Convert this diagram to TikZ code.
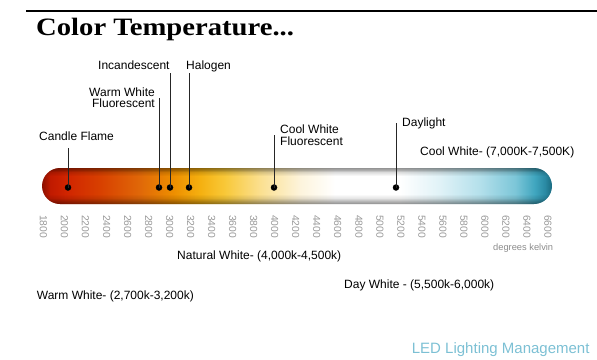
\documentclass[tikz,border=0pt]{standalone}
\usepackage{fontspec}
\setmainfont{Liberation Sans}
\newfontfamily\titlefont{Liberation Serif}
\usetikzlibrary{calc}
\definecolor{hA}{HTML}{8C1000}
\definecolor{hB}{HTML}{C01A00}
\definecolor{hC}{HTML}{D02400}
\definecolor{hD}{HTML}{D84000}
\definecolor{hE}{HTML}{E06808}
\definecolor{hF}{HTML}{EE9000}
\definecolor{hG}{HTML}{F5B010}
\definecolor{hH}{HTML}{F8C838}
\definecolor{hI}{HTML}{FBE090}
\definecolor{hJ}{HTML}{FDF4DC}
\definecolor{hK}{HTML}{FFFFFF}
\definecolor{hL}{HTML}{E0F2F7}
\definecolor{hM}{HTML}{B4E0EB}
\definecolor{hN}{HTML}{7CC6D8}
\definecolor{hO}{HTML}{40A6BF}
\definecolor{hP}{HTML}{2A8AA4}
\definecolor{hQ}{HTML}{1A6A80}
\definecolor{ledblue}{HTML}{7CC0D4}
\definecolor{ticktext}{HTML}{999999}
\pgfdeclarehorizontalshading{tubeh}{100bp}{color(0bp)=(hA); color(25bp)=(hA); color(25.8bp)=(hB); color(27.3bp)=(hC); color(30.7bp)=(hD); color(34.6bp)=(hE); color(38bp)=(hF); color(40.5bp)=(hG); color(42.9bp)=(hH); color(46.4bp)=(hI); color(50.3bp)=(hJ); color(53.7bp)=(hK); color(60.1bp)=(hK); color(64bp)=(hL); color(67.9bp)=(hM); color(71.4bp)=(hN); color(73.3bp)=(hO); color(74.3bp)=(hP); color(75bp)=(hQ); color(100bp)=(hQ)}
\pgfdeclareverticalshading{tubev}{100bp}{color(0bp)=(black!45); color(25bp)=(black!45); color(29.2bp)=(black!28); color(33.3bp)=(black!10); color(38.9bp)=(white); color(63.9bp)=(white); color(69.4bp)=(black!14); color(72.2bp)=(black!32); color(75bp)=(black!42); color(100bp)=(black!42)}
\tikzset{
  lbl/.style={inner sep=0pt, text=black, font=\fontsize{12}{11.5}\selectfont},
  ticklbl/.style={inner sep=0pt, text=ticktext, rotate=-90, anchor=west, font=\fontsize{10.3}{10.3}\selectfont},
  dotnode/.style={circle, fill=black, inner sep=0pt, minimum size=6.5pt},
  pinline/.style={draw=black!85, line width=0.9pt}
}
\begin{document}
\begin{tikzpicture}[x=1pt,y=-1pt]
\useasboundingbox (0,0) rectangle (597,359);
% top rule
\coordinate (ruleL) at (26,11);
\coordinate (ruleR) at (597,11);
\draw[line width=2pt] (ruleL) -- (ruleR);
% title
\node[anchor=base west, inner sep=0pt, font=\titlefont\bfseries\fontsize{25}{25}\selectfont] (title) at (36,35) {\scalebox{1.146}[1]{Color Temperature...}};
% bar
\shade[shading=tubeh, rounded corners=18pt] (42,168) rectangle (552,204);
\shade[shading=tubev, blend mode=multiply, rounded corners=18pt] (42,168) rectangle (552,204);
% tick labels
\foreach \t in {1800,2000,...,6600}{
  \node[ticklbl] (tk\t) at ({43.5+(\t-1800)*0.1051},215) {\t};
}
% dots and pins
\node[dotnode] (dCandle) at (68,187.5) {};
\node[dotnode] (dWarm) at (159,187.5) {};
\node[dotnode] (dInc) at (170,187.5) {};
\node[dotnode] (dHal) at (189,187.5) {};
\node[dotnode] (dCool) at (274,187.5) {};
\node[dotnode] (dDay) at (396,187.5) {};
\coordinate (tCandle) at (68,148);
\coordinate (tWarm) at (159,98);
\coordinate (tInc) at (170,73);
\coordinate (tHal) at (189,73);
\coordinate (tCool) at (274,135);
\coordinate (tDay) at (396,123);
\draw[pinline] (dCandle.center) -- (tCandle);
\draw[pinline] (dWarm.center) -- (tWarm);
\draw[pinline] (dInc.center) -- (tInc);
\draw[pinline] (dHal.center) -- (tHal);
\draw[pinline] (dCool.center) -- (tCool);
\draw[pinline] (dDay.center) -- (tDay);
% labels
\node[lbl, anchor=base west] (lInc) at (98,69) {Incandescent};
\node[lbl, anchor=base west] (lHal) at (186,69) {Halogen};
\node[lbl, anchor=base east] (lWarm1) at (155,96) {Warm White};
\node[lbl, anchor=base east] (lWarm2) at (155,107.3) {Fluorescent};
\node[lbl, anchor=base west] (lCandle) at (39,140) {Candle Flame};
\node[lbl, anchor=base west] (lCool1) at (280,133.5) {Cool White};
\node[lbl, anchor=base west] (lCool2) at (280,145) {Fluorescent};
\node[lbl, anchor=base west] (lDay) at (402,126) {Daylight};
\node[lbl, anchor=base west] (rCool) at (420,155) {Cool White- (7,000K-7,500K)};
\node[lbl, anchor=base west] (rNat) at (177,259.3) {Natural White- (4,000k-4,500k)};
\node[lbl, anchor=base west] (rWarm) at (36.7,299.3) {Warm White- (2,700k-3,200k)};
\node[lbl, anchor=base west] (rDayW) at (344,288.3) {Day White - (5,500k-6,000k)};
\node[anchor=base west, inner sep=0pt, text=black!45, font=\fontsize{9.3}{9.3}\selectfont] (kelvin) at (493,250.5) {degrees kelvin};
\node[anchor=base west, inner sep=0pt, text=ledblue, font=\fontsize{15}{15}\selectfont] (led) at (411.7,353.3) {LED Lighting Management};
\end{tikzpicture}
\end{document}
